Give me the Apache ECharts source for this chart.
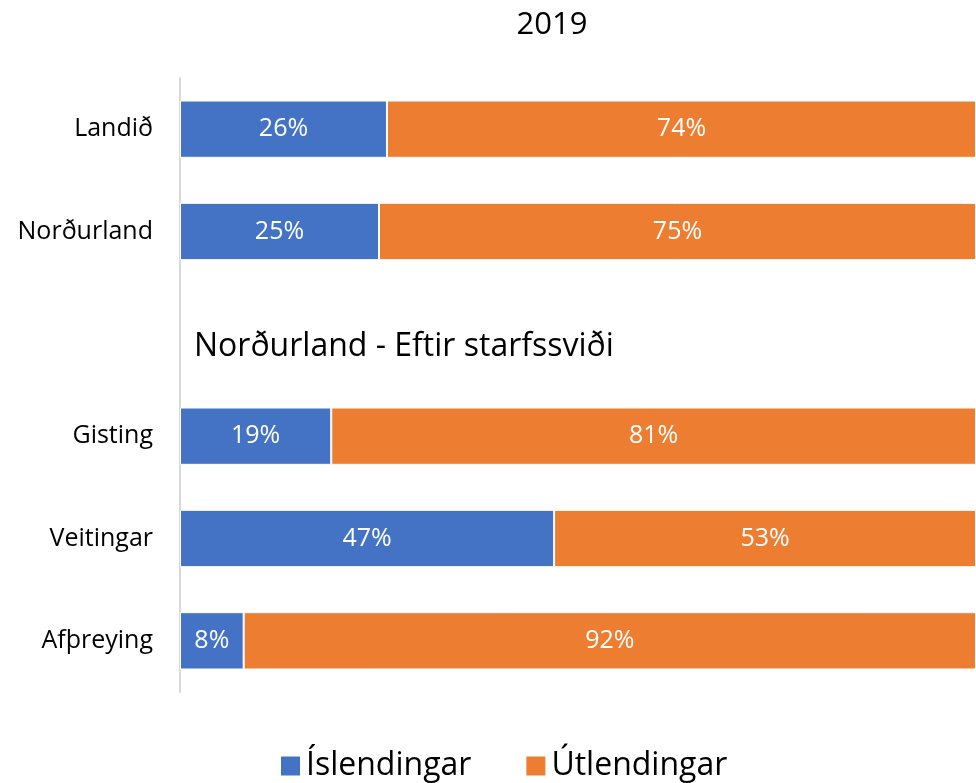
<!DOCTYPE html>
<html>
<head>
<meta charset="utf-8">
<script src="https://cdn.jsdelivr.net/npm/echarts@6/dist/echarts.min.js"></script>
<style>
  html, body { margin: 0; padding: 0; background: #fff; }
  #chart { width: 976px; height: 783px; }
</style>
</head>
<body>
<div id="chart"></div>
<script>
// gögn
const categories = ['Landið', 'Norðurland', '', 'Gisting', 'Veitingar', 'Afþreying']
const islendingar = [26, 25, null, 19, 47, 8]
const utlendingar = [74, 75, null, 81, 53, 92]
const seriesNames = ['Íslendingar', 'Útlendingar']
const sectionLabel = 'Norðurland - Eftir starfssviði'

const font = '"Open Sans", "Noto Sans", sans-serif'
const chart = echarts.init(document.getElementById('chart'))

const barLabel = {
  show: true,
  position: 'inside',
  color: '#fff',
  fontSize: 25,
  fontFamily: font,
  formatter: p => (p.value == null ? '' : p.value + '%')
}

chart.setOption({
  animation: false,
  title: {
    text: '2019',
    left: 547,
    top: 5,
    textAlign: 'center',
    textStyle: { fontSize: 31, fontWeight: 'normal', color: '#000', fontFamily: font }
  },
  legend: {
    bottom: -4,
    left: 274,
    itemWidth: 21,
    itemHeight: 21,
    itemGap: 53,
    icon: 'rect',
    textStyle: { fontSize: 32, color: '#000', fontFamily: font },
    data: seriesNames
  },
  grid: { left: 180, right: -2, top: 78, bottom: 91 },
  xAxis: {
    type: 'value',
    min: 0,
    max: 100,
    show: false
  },
  yAxis: {
    type: 'category',
    inverse: true,
    data: categories,
    axisLine: { show: true, lineStyle: { color: '#d9d9d9', width: 2 } },
    axisTick: { show: false },
    axisLabel: { fontSize: 25, color: '#000', fontFamily: font, margin: 27 }
  },
  graphic: [{
    type: 'text',
    left: 194,
    top: 331,
    style: { text: sectionLabel, fontSize: 32, fill: '#000', fontFamily: font }
  }],
  series: [
    {
      name: seriesNames[0],
      type: 'bar',
      stack: 'a',
      barWidth: '56%',
      data: islendingar,
      itemStyle: { color: '#4472c4', borderColor: '#fff', borderWidth: 1 },
      label: barLabel
    },
    {
      name: seriesNames[1],
      type: 'bar',
      stack: 'a',
      data: utlendingar,
      itemStyle: { color: '#ed7d31', borderColor: '#fff', borderWidth: 1 },
      label: barLabel
    }
  ]
})
</script>
</body>
</html>
